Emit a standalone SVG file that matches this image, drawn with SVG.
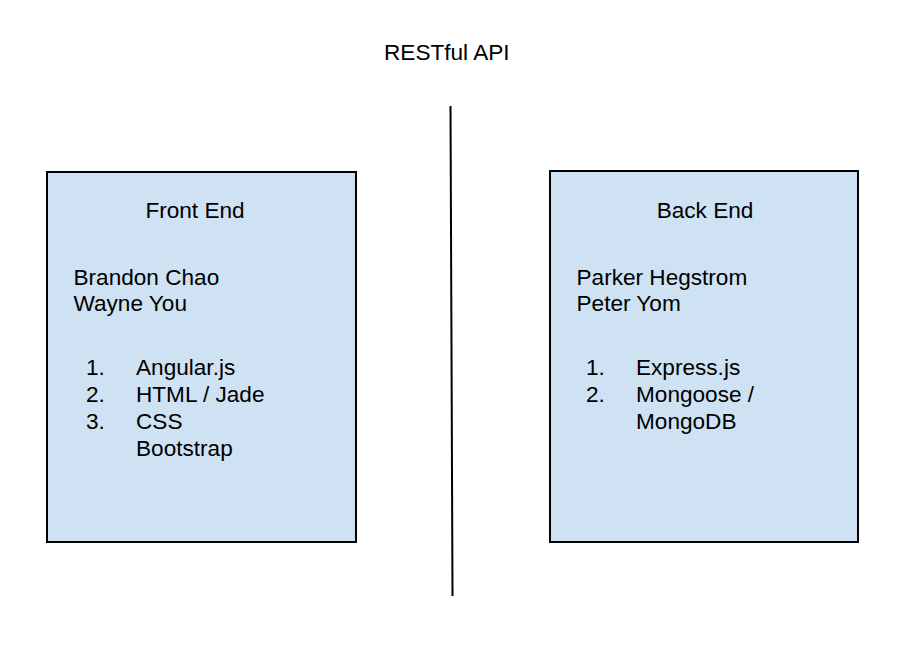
<svg xmlns="http://www.w3.org/2000/svg" width="916" height="652" viewBox="0 0 916 652">
<style>
.box{fill:#cfe2f3;stroke:#000;stroke-width:2}
.t{font-family:"Liberation Sans",Arial,sans-serif;font-size:22.6px;fill:#000}
.c{text-anchor:middle}
.conn{stroke:#000;stroke-width:2;fill:none}
</style>
<rect width="916" height="652" fill="#fff"/>
<text class="t" x="384" y="60">RESTful API</text>
<g id="connectors">
<line class="conn" x1="450.5" y1="106" x2="452.5" y2="596"/>
</g>
<g id="front-end">
<rect class="box" x="47" y="172" width="309" height="370"/>
<text class="t c" x="195" y="218">Front End</text>
<text class="t" x="73.5" y="285">Brandon Chao</text>
<text class="t" x="73.5" y="311">Wayne You</text>
<text class="t" x="86" y="375">1.</text>
<text class="t" x="136" y="375">Angular.js</text>
<text class="t" x="86" y="402">2.</text>
<text class="t" x="136" y="402">HTML / Jade</text>
<text class="t" x="86" y="429">3.</text>
<text class="t" x="136" y="429">CSS</text>
<text class="t" x="136" y="456">Bootstrap</text>
</g>
<g id="back-end">
<rect class="box" x="550" y="171" width="308" height="371"/>
<text class="t c" x="705" y="218">Back End</text>
<text class="t" x="576.5" y="285">Parker Hegstrom</text>
<text class="t" x="576.5" y="311">Peter Yom</text>
<text class="t" x="586" y="375">1.</text>
<text class="t" x="636" y="375">Express.js</text>
<text class="t" x="586" y="402">2.</text>
<text class="t" x="636" y="402">Mongoose /</text>
<text class="t" x="636" y="429">MongoDB</text>
</g>
</svg>
